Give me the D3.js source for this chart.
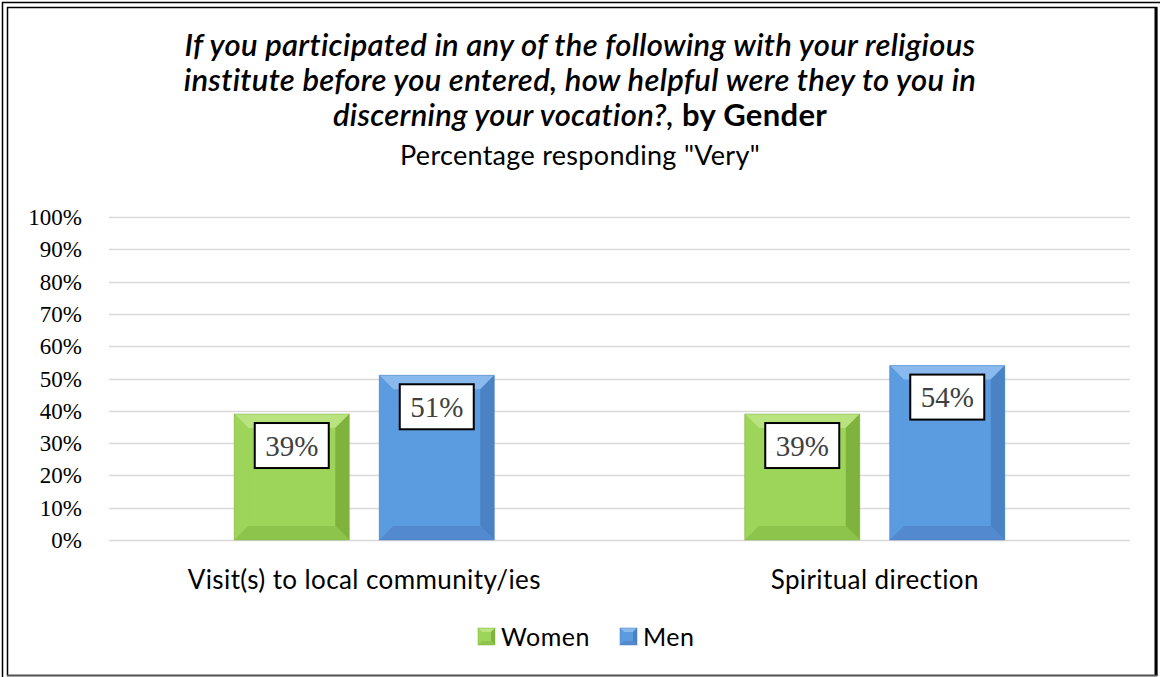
<!DOCTYPE html>
<html>
<head>
<meta charset="utf-8">
<script src="https://cdn.jsdelivr.net/npm/d3@7"></script>
<style>
  body { margin: 0; background: #fff; }
  svg { display: block; }
</style>
</head>
<body>
<div id="chart"></div>
<script>
// Data
const categories = ['Visit(s) to local community/ies', 'Spiritual direction'];
const seriesNames = ['Women', 'Men'];
const women = [0.39, 0.39];
const men = [0.51, 0.54];
const yTicks = [0, 0.1, 0.2, 0.3, 0.4, 0.5, 0.6, 0.7, 0.8, 0.9, 1.0];

const W = 1160, H = 677;
const plot = { left: 109, right: 1130, top: 217, bottom: 540 };
const sansFont = 'Lato, "Open Sans", sans-serif';
const serifFont = '"Liberation Serif", "DejaVu Serif", serif';

const palette = {
  Women: { main: '#9dd45a', light: '#b8e37e', dark: '#7fb33e', bottom: '#8cc44c' },
  Men:   { main: '#5b9be0', light: '#8ab9ee', dark: '#4a82c4', bottom: '#5289cf' }
};

const svg = d3.select('#chart').append('svg')
  .attr('width', W)
  .attr('height', H);

// double frame
svg.append('rect').attr('x', 2.5).attr('y', 2.5).attr('width', W + 10).attr('height', H + 10)
  .attr('fill', 'none').attr('stroke', '#000').attr('stroke-width', 1.5);
svg.append('rect').attr('x', 7.5).attr('y', 7.5).attr('width', 1149).attr('height', 668)
  .attr('fill', 'none').attr('stroke', '#000').attr('stroke-width', 1.5);
svg.append('line').attr('x1', 1156).attr('x2', 1156).attr('y1', 7).attr('y2', 676)
  .attr('stroke', '#000').attr('stroke-width', 3);
svg.append('line').attr('x1', 7).attr('x2', 1157).attr('y1', 675.5).attr('y2', 675.5)
  .attr('stroke', '#555').attr('stroke-width', 1.5);

// title
const title = svg.append('text')
  .attr('text-anchor', 'middle')
  .style('font-family', sansFont)
  .style('font-size', '31px')
  .style('letter-spacing', '0.3px')
  .attr('fill', '#000');
const titleLines = [
  [{ t: 'If you participated in any of the following with your religious', s: 'italic', w: 600 }],
  [{ t: 'institute before you entered, how helpful were they to you in', s: 'italic', w: 600 }],
  [{ t: 'discerning your vocation?,', s: 'italic', w: 600 }, { t: ' by Gender', s: 'normal', w: 700 }]
];
titleLines.forEach((parts, i) => {
  parts.forEach((p, j) => {
    const ts = title.append('tspan')
      .style('font-style', p.s)
      .style('font-weight', p.w)
      .text(p.t);
    if (j === 0) ts.attr('x', W / 2).attr('y', 56 + i * 35);
  });
});
svg.append('text')
  .attr('x', W / 2).attr('y', 165)
  .attr('text-anchor', 'middle')
  .style('font-family', sansFont)
  .style('font-size', '27px')
  .style('letter-spacing', '0.3px')
  .text('Percentage responding "Very"');

// scales
const x0 = d3.scaleBand().domain(categories).range([plot.left, plot.right]);
const y = d3.scaleLinear().domain([0, 1]).range([plot.bottom, plot.top]);
const barW = 115, barGap = 30;
const x1 = d3.scaleBand().domain(seriesNames)
  .range([-(barW + barGap / 2), barW + barGap / 2])
  .paddingInner(barGap / (barW + barGap));

// gridlines
svg.append('g').selectAll('line').data(yTicks).join('line')
  .attr('x1', plot.left).attr('x2', plot.right)
  .attr('y1', d => Math.round(y(d)) + 0.5).attr('y2', d => Math.round(y(d)) + 0.5)
  .attr('stroke', '#d9d9d9').attr('stroke-width', 1.5);

// y axis labels
const yAxis = d3.axisLeft(y).tickValues(yTicks).tickFormat(d3.format('.0%')).tickSize(0).tickPadding(0);
const yg = svg.append('g').attr('transform', `translate(82,0)`).call(yAxis)
  .attr('font-family', null).attr('font-size', null);
yg.select('.domain').remove();
yg.selectAll('text')
  .style('font-family', serifFont)
  .style('font-size', '23px')
  .attr('fill', '#000')
  .attr('dy', '0.33em');

// x axis labels
const xAxis = d3.axisBottom(x0).tickSize(0).tickPadding(0);
const xg = svg.append('g').attr('transform', `translate(0,${plot.bottom + 40})`).call(xAxis)
  .attr('font-family', null).attr('font-size', null);
xg.select('.domain').remove();
xg.selectAll('text')
  .style('font-family', sansFont)
  .style('font-size', '26px')
  .style('letter-spacing', '0.4px')
  .attr('fill', '#000')
  .attr('dy', '0.35em');

// bars with bevel
const rows = [];
categories.forEach((c, i) => {
  rows.push({ cat: c, series: 'Women', value: women[i] });
  rows.push({ cat: c, series: 'Men', value: men[i] });
});

function drawBevelBar(g, x, yTop, w, h, col, b) {
  g.append('rect').attr('x', x).attr('y', yTop).attr('width', w).attr('height', h).attr('fill', col.main);
  // top facet
  g.append('polygon').attr('points', [[x, yTop], [x + w, yTop], [x + w - b, yTop + b], [x + b, yTop + b]].join(' '))
    .attr('fill', col.light);
  // left facet
  g.append('polygon').attr('points', [[x, yTop], [x + b, yTop + b], [x + b, yTop + h - b], [x, yTop + h]].join(' '))
    .attr('fill', col.main).attr('opacity', 0.9);
  // right facet
  g.append('polygon').attr('points', [[x + w, yTop], [x + w, yTop + h], [x + w - b, yTop + h - b], [x + w - b, yTop + b]].join(' '))
    .attr('fill', col.dark);
  // bottom facet
  g.append('polygon').attr('points', [[x, yTop + h], [x + b, yTop + h - b], [x + w - b, yTop + h - b], [x + w, yTop + h]].join(' '))
    .attr('fill', col.bottom);
  g.append('rect').attr('x', x).attr('y', yTop).attr('width', w).attr('height', h)
    .attr('fill', 'none').attr('stroke', col.dark).attr('stroke-opacity', 0.5);
}

const barsG = svg.append('g');
rows.forEach(d => {
  const cx = x0(d.cat) + x0.bandwidth() / 2;
  const bx = cx + x1(d.series);
  const by = y(d.value);
  const g = barsG.append('g');
  drawBevelBar(g, bx, by, x1.bandwidth(), plot.bottom - by, palette[d.series], 14);

  // data label
  const lx = bx + x1.bandwidth() / 2;
  g.append('rect')
    .attr('x', lx - 37).attr('y', by + 9)
    .attr('width', 74).attr('height', 45)
    .attr('fill', '#fff').attr('stroke', '#000').attr('stroke-width', 2);
  g.append('text')
    .attr('x', lx).attr('y', by + 31.5)
    .attr('dy', '0.35em')
    .attr('text-anchor', 'middle')
    .style('font-family', serifFont)
    .style('font-size', '29px')
    .attr('fill', '#404040')
    .text(d3.format('.0%')(d.value));
});

// legend
const legendItems = [{ name: 'Women', x: 478 }, { name: 'Men', x: 620 }];
const lg = svg.append('g');
legendItems.forEach(it => {
  const g = lg.append('g');
  drawBevelBar(g, it.x, 628, 17, 17, palette[it.name], 4);
  g.append('text')
    .attr('x', it.x + 23).attr('y', 637)
    .attr('dy', '0.35em')
    .style('font-family', sansFont)
    .style('font-size', '25px')
    .style('letter-spacing', '0.5px')
    .text(it.name);
});
</script>
</body>
</html>
